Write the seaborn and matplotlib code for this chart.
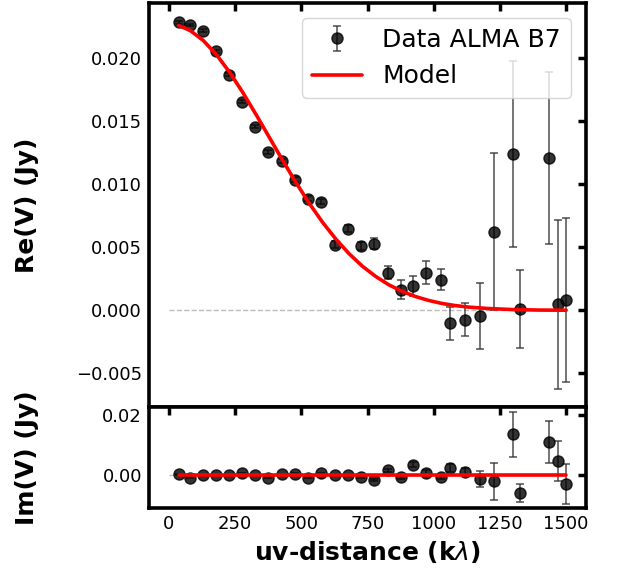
import numpy as np
import matplotlib
matplotlib.use("Agg")
import matplotlib.pyplot as plt
import seaborn as sns
import pandas as pd

# ---- data ----
uv_dist = [38, 79, 127, 177, 228, 277, 327, 376, 426, 477, 527, 576, 626, 676, 724,
           774, 826, 878, 922, 972, 1027, 1063, 1118, 1176, 1227, 1298, 1324, 1434, 1468, 1500]
re_vis = [0.02283, 0.02264, 0.02218, 0.02054, 0.01870, 0.01656, 0.01458, 0.01258, 0.01184, 0.01034,
          0.00885, 0.00862, 0.00522, 0.00648, 0.00508, 0.00530, 0.00300, 0.00163, 0.00195, 0.00300,
          0.00243, -0.00104, -0.00075, -0.00045, 0.00625, 0.01240, 0.00010, 0.01210, 0.00048, 0.00083]
im_vis = [0.0003, -0.0007, 0.0000, 0.0001, 0.0000, 0.0007, 0.0000, -0.0008, 0.0003, 0.0005,
          -0.0008, 0.0007, 0.0002, 0.0001, -0.0005, -0.0016, 0.0017, -0.0005, 0.0035, 0.0007,
          -0.0005, 0.0025, 0.0012, -0.0011, -0.0020, 0.0136, -0.0058, 0.0110, 0.0047, -0.0028]
vis_err = [0.0001, 0.0001, 0.0001, 0.0001, 0.0001, 0.00012, 0.00012, 0.00015, 0.00015, 0.0002,
           0.0002, 0.0002, 0.00025, 0.0003, 0.0003, 0.0004, 0.0005, 0.00076, 0.00081, 0.00093,
           0.00085, 0.00133, 0.00132, 0.0026, 0.0062, 0.0074, 0.0031, 0.0068, 0.0067, 0.0065]

model_uv = [37, 80, 130, 180, 230, 280, 330, 380, 430, 480, 530, 580, 630, 680, 730,
            780, 830, 880, 930, 980, 1030, 1080, 1130, 1200, 1300, 1400, 1500]
model_re = [0.02259, 0.02220, 0.02140, 0.02027, 0.01886, 0.01725, 0.01550, 0.01369, 0.01188, 0.01013,
            0.00849, 0.00699, 0.00566, 0.00450, 0.00351, 0.00270, 0.00203, 0.00151, 0.00110, 0.00079,
            0.00055, 0.00038, 0.00026, 0.00015, 0.00006, 0.00002, 0.00001]
model_im = [0.0] * len(model_uv)

x_ticks = [0, 250, 500, 750, 1000, 1250, 1500]

data_df = pd.DataFrame({"uv": uv_dist, "re": re_vis, "im": im_vis, "err": vis_err})
model_df = pd.DataFrame({"uv": model_uv, "re": model_re, "im": model_im})

sns.set_style("white")
plt.rcParams["font.family"] = ["DejaVu Sans"]
plt.rcParams["text.color"] = "black"
plt.rcParams["axes.labelcolor"] = "black"
plt.rcParams["xtick.color"] = "black"
plt.rcParams["ytick.color"] = "black"

fig = plt.figure(figsize=(6.17, 5.71), dpi=100)
gs = fig.add_gridspec(2, 1, height_ratios=[4, 1], hspace=0,
                      left=0.2415, right=0.9498, top=0.995, bottom=0.110)
ax1 = fig.add_subplot(gs[0])
ax2 = fig.add_subplot(gs[1], sharex=ax1)

err_kw = dict(fmt="o", color="k", ecolor="#333333", alpha=0.8, markersize=8,
              elinewidth=1.2, capsize=3, capthick=1.2, zorder=2)

for ax, col in [(ax1, "re"), (ax2, "im")]:
    ax.hlines(0, 0, 1500, colors="#bbbbbb", linestyles="--", linewidth=1, zorder=1)
    eb = ax.errorbar(data_df["uv"], data_df[col], yerr=data_df["err"],
                     label="Data ALMA B7", **err_kw)
    sns.lineplot(data=model_df, x="uv", y=col, ax=ax, color="red", linewidth=2.6,
                 label="Model", zorder=3, legend=False)
    if ax is ax1:
        eb_handle = eb
    for s in ax.spines.values():
        s.set_linewidth(2.6)
        s.set_color("black")
    ax.tick_params(direction="in", length=6, width=2.5, top=True, right=True,
                   labelsize=13, colors="black", pad=5)
    ax.set_xlabel("")

ax1.set_yticks([-0.005, 0.0, 0.005, 0.010, 0.015, 0.020])
ax1.yaxis.set_major_formatter(matplotlib.ticker.FuncFormatter(
    lambda v, p: ("\u2212" if v < -1e-12 else "") + "%.3f" % abs(v)))
ax2.set_yticks([0.0, 0.02])
ax2.yaxis.set_major_formatter(matplotlib.ticker.FuncFormatter(lambda v, p: "%.2f" % abs(v)))
ax1.tick_params(labelbottom=False)
ax2.set_xticks(x_ticks)
ax2.set_xticklabels([str(t) for t in x_ticks])

ax1.set_ylabel("Re(V) (Jy)", fontsize=18, fontweight="bold", color="black")
ax2.set_ylabel("Im(V) (Jy)", fontsize=18, fontweight="bold", color="black")
ax1.yaxis.set_label_coords(-0.251, 0.5)
ax2.yaxis.set_label_coords(-0.251, 0.5)
ax2.set_xlabel(r"uv-distance (k$\lambda$)", fontsize=18, fontweight="bold",
               labelpad=4, color="black")

model_handle = ax1.lines[-1]
leg = ax1.legend([eb_handle, model_handle], ["Data ALMA B7", "Model"], loc="upper right",
                 fontsize=18, frameon=True, borderaxespad=0.6, handlelength=2.0)
for t in leg.get_texts():
    t.set_color("black")

fig.savefig("out.png", dpi=100)
